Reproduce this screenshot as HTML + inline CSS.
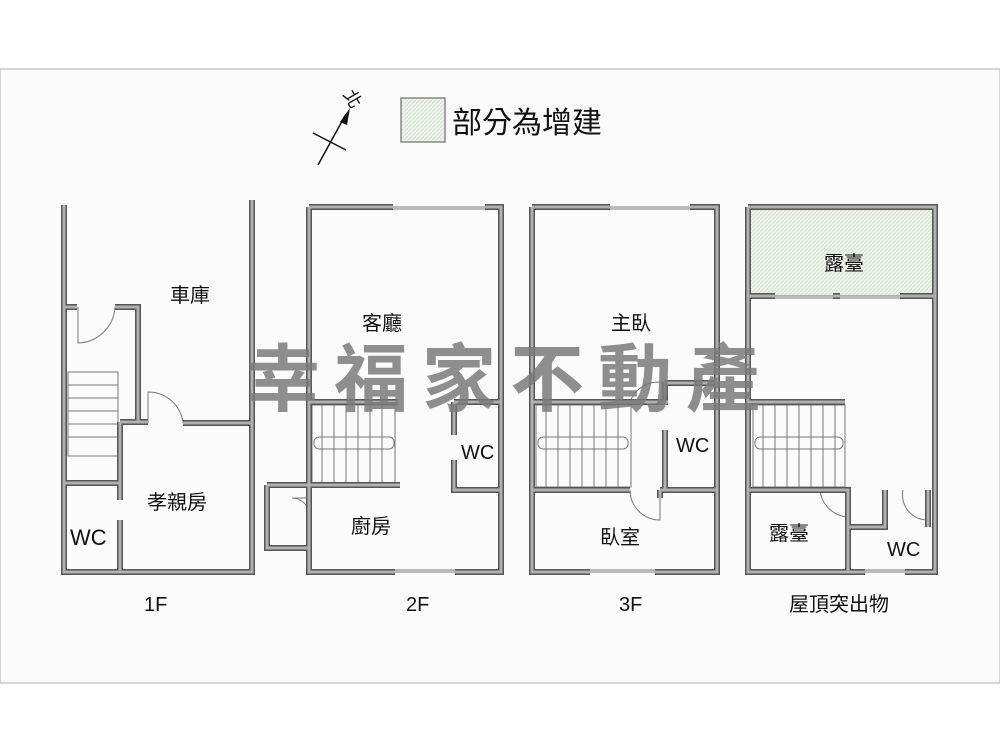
<!DOCTYPE html>
<html><head><meta charset="utf-8"><style>
html,body{margin:0;padding:0;background:#fff}
svg{display:block}
text{font-family:"Liberation Sans","Noto Sans CJK TC",sans-serif;fill:#111}
</style></head><body>
<svg width="1000" height="750" viewBox="0 0 1000 750" xmlns="http://www.w3.org/2000/svg">
<defs>
<pattern id="hatch" width="4" height="4" patternUnits="userSpaceOnUse">
<rect width="4" height="4" fill="#eef3ec"/><path d="M0 4L4 0" stroke="#d6e0d3" stroke-width="1"/>
</pattern>
<g id="walls" fill="none">
<path d="M64 205V572H252V200"/>
<path d="M64 307H77M115 307H138V422"/>
<path d="M120 422H148M183 423H252"/>
<path d="M120 422V500M120 520V572"/>
<path d="M64 483H120"/>
<path d="M309 207V572H395M455 572H501V207H485M393 207H309"/>
<path d="M309 402H398"/>
<path d="M267 485H400"/>
<path d="M267 485V548H309"/>
<path d="M454 402H501M454 402V435M454 460V490H501"/>
<path d="M532 207V572H590M655 572H717V207H690M610 207H532"/>
<path d="M532 402H668"/>
<path d="M665 383H717M665 383V405M665 430V490"/>
<path d="M532 490H630M660 490H717M660 490V498"/>
<path d="M748 207H935V572H905M865 572H748V207"/>
<path d="M748 296H775M833 296H840M900 296H935"/>
<path d="M748 402H845"/>
<path d="M748 490H848V572"/>
<path d="M848 527H885V490"/>
<path d="M928 490V527"/>
</g>
</defs>
<rect x="0" y="69" width="1000" height="614" fill="#fbfbfb" stroke="#c8c8c8" stroke-width="1.5"/>
<rect x="401" y="98" width="44" height="44" fill="url(#hatch)" stroke="#888" stroke-width="1.5"/>
<text x="452" y="133" font-size="30">部分為增建</text>
<line x1="318" y1="165" x2="346" y2="114" stroke="#111" stroke-width="1.5"/>
<polygon points="350,108 340,122 347,125" fill="#111"/>
<line x1="313" y1="133" x2="346" y2="150" stroke="#111" stroke-width="1.5"/>
<text x="344" y="104" font-size="18" transform="rotate(60 352 98)">北</text>
<rect x="750" y="210" width="183" height="86" fill="url(#hatch)"/>
<g stroke="#777" stroke-width="1" fill="none">
<rect x="68" y="372" width="50" height="84"/>
<path d="M68 385H118M68 398H118M68 411H118M68 424H118M68 437H118"/>
<rect x="312" y="405" width="83" height="82"/>
<path d="M322 405V487M334 405V487M346 405V487M358 405V487M370 405V487M382 405V487"/>
<rect x="314" y="437" width="80" height="12" rx="5"/>
<rect x="536" y="405" width="95" height="82"/>
<path d="M546 405V487M558 405V487M570 405V487M582 405V487M594 405V487M606 405V487M618 405V487"/>
<rect x="538" y="437" width="90" height="12" rx="5"/>
<rect x="753" y="405" width="92" height="82"/>
<path d="M763 405V487M775 405V487M787 405V487M799 405V487M811 405V487M823 405V487M835 405V487"/>
<rect x="755" y="437" width="88" height="12" rx="5"/>
<path d="M78 307V343A38 38 0 0 0 115 307"/>
<path d="M148 423V392A35 35 0 0 1 183 423"/>
<path d="M309 498H292A17 17 0 0 1 309 514"/>
<path d="M665 383A30 30 0 0 0 630 402"/>
<path d="M660 490V520A30 30 0 0 1 630 490"/>
<path d="M848 517A30 30 0 0 1 820 490"/>
<path d="M928 520A25 25 0 0 1 903 490"/>
<path d="M393 207H485M393 209H485M395 572H455M395 570H455M610 207H690M610 209H690M590 572H655M590 570H655M775 296H900M775 298H900M865 572H905M865 570H905"/>
</g>
<use href="#walls" stroke="#555" stroke-width="6"/>
<use href="#walls" stroke="#b0b0b0" stroke-width="3"/>
<text x="246" y="405" font-size="74" font-weight="bold" letter-spacing="14" style="fill:#7a7a7a" fill-opacity="0.85">幸福家不動產</text>
<g font-size="20">
<text x="170" y="302">車庫</text>
<text x="362" y="330">客廳</text>
<text x="611" y="330">主臥</text>
<text x="824" y="270">露臺</text>
<text x="147" y="509">孝親房</text>
<text x="351" y="533">廚房</text>
<text x="600" y="544">臥室</text>
<text x="769" y="540">露臺</text>
<text x="70" y="545" font-size="22">WC</text>
<text x="461" y="459">WC</text>
<text x="676" y="452">WC</text>
<text x="887" y="556">WC</text>
<text x="144" y="611">1F</text>
<text x="406" y="611">2F</text>
<text x="619" y="611">3F</text>
<text x="789" y="611">屋頂突出物</text>
</g>
</svg>
</body></html>
